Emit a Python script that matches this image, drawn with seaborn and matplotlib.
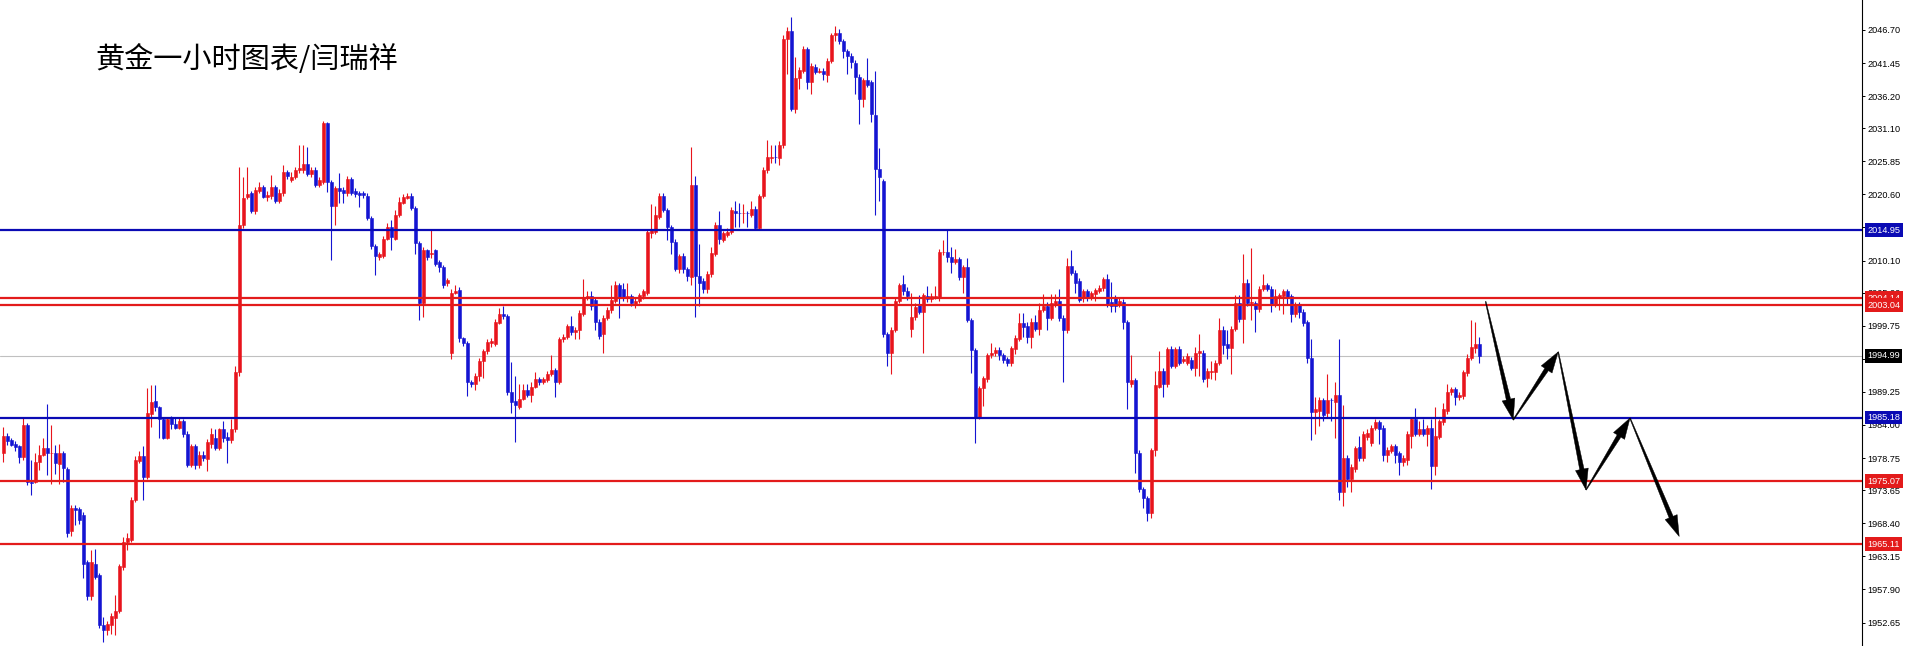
import numpy as np
import matplotlib
matplotlib.use("Agg")
import matplotlib.pyplot as plt
import matplotlib.transforms as mtransforms
from matplotlib.patches import Polygon
import seaborn as sns

# hourly gold candles (oldest first)
opens = [
    1979.5, 1982.3, 1981.6, 1981.0, 1980.7, 1978.9, 1984.0, 1975.0, 1975.0, 1978.2,
    1979.2, 1980.3, 1979.5, 1979.5, 1977.8, 1979.6, 1977.0, 1967.1, 1970.9, 1970.6,
    1969.7, 1962.3, 1956.8, 1962.0, 1960.2, 1952.2, 1951.5, 1952.3, 1953.3, 1954.4,
    1961.5, 1965.5, 1965.8, 1972.1, 1978.3, 1979.0, 1975.8, 1985.8, 1987.8, 1986.8,
    1984.9, 1982.0, 1985.1, 1984.2, 1983.6, 1984.7, 1982.6, 1977.7, 1980.6, 1977.7,
    1979.3, 1978.6, 1981.0, 1982.0, 1980.3, 1983.3, 1982.1, 1981.6, 1983.3, 1992.4,
    2015.7, 2020.2, 2020.8, 2017.9, 2021.2, 2021.8, 2020.2, 2020.3, 2021.8, 2019.5,
    2020.8, 2024.1, 2022.9, 2023.4, 2024.5, 2024.4, 2025.5, 2023.9, 2024.5, 2022.1,
    2022.6, 2031.9, 2022.5, 2018.7, 2021.6, 2021.3, 2020.8, 2023.0, 2021.2, 2020.9,
    2020.8, 2020.4, 2016.9, 2012.4, 2010.7, 2010.8, 2013.6, 2015.5, 2013.6, 2017.3,
    2019.3, 2020.1, 2020.3, 2018.5, 2012.9, 2003.3, 2011.7, 2011.2, 2011.7, 2009.9,
    2009.1, 2006.5, 1995.4, 2005.0, 2005.4, 1997.8, 1997.0, 1990.8, 1990.5, 1991.8,
    1994.1, 1995.7, 1997.0, 1996.9, 2000.2, 2001.6, 2001.3, 1989.2, 1987.8, 1986.9,
    1988.2, 1989.5, 1988.8, 1990.1, 1991.3, 1990.8, 1991.1, 1992.1, 1992.8, 1990.8,
    1997.6, 1998.0, 1999.7, 1998.7, 1999.0, 2001.6, 2004.2, 2004.4, 2003.9, 2000.3,
    1998.4, 2001.0, 2002.2, 2003.7, 2006.2, 2005.6, 2004.1, 2004.4, 2003.0, 2003.7,
    2004.4, 2005.0, 2014.4, 2014.7, 2017.0, 2020.3, 2018.1, 2015.4, 2013.1, 2008.8,
    2010.8, 2008.7, 2007.5, 2022.1, 2007.7, 2006.9, 2005.6, 2007.9, 2011.1, 2015.7,
    2013.4, 2014.2, 2014.7, 2018.0, 2017.7, 2017.6, 2017.7, 2017.4, 2018.3, 2015.3,
    2020.3, 2024.4, 2026.4, 2026.5, 2026.4, 2028.5, 2045.2, 2046.5, 2034.1, 2039.0,
    2040.2, 2043.7, 2038.4, 2040.8, 2040.1, 2040.2, 2039.5, 2041.8, 2045.9, 2046.2,
    2044.9, 2043.3, 2042.6, 2041.5, 2039.3, 2035.7, 2038.7, 2038.4, 2033.2, 2024.6,
    2022.7, 1998.4, 1995.4, 1999.1, 2003.7, 2006.4, 2005.3, 1999.3, 2001.1, 2003.0,
    2002.0, 2004.4, 2004.0, 2004.3, 2004.1, 2011.4, 2011.5, 2010.7, 2009.8, 2010.3,
    2007.5, 2009.0, 2000.7, 1995.9, 1985.3, 1989.8, 1991.3, 1995.1, 1995.5, 1995.9,
    1995.1, 1994.4, 1993.8, 1996.0, 1997.6, 2000.2, 1999.7, 1998.0, 2000.3, 1999.3,
    2002.3, 2002.9, 2001.0, 2003.2, 2003.7, 2001.0, 1999.0, 2009.2, 2008.2, 2006.9,
    2004.2, 2005.2, 2004.3, 2004.8, 2005.3, 2005.7, 2007.2, 2003.6, 2004.2, 2003.2,
    2003.6, 2000.3, 1990.5, 1991.1, 1979.6, 1973.8, 1972.4, 1970.1, 1980.0, 1990.1,
    1992.6, 1990.5, 1996.0, 1993.4, 1996.0, 1994.2, 1993.9, 1994.3, 1993.1, 1995.4,
    1995.4, 1991.5, 1992.4, 1992.4, 1993.9, 1999.0, 1996.9, 1996.2, 1999.3, 2003.3,
    2000.8, 2006.5, 2003.3, 2003.3, 2002.4, 2005.6, 2006.3, 2005.6, 2003.1, 2004.3,
    2004.4, 2005.2, 2004.4, 2001.6, 2003.1, 2002.0, 2000.3, 1994.7, 1986.0, 1986.2,
    1988.0, 1985.9, 1987.9, 1987.6, 1988.8, 1973.4, 1978.7, 1975.4, 1977.0, 1980.5,
    1978.7, 1982.1, 1981.2, 1983.6, 1984.4, 1983.6, 1979.2, 1979.9, 1980.6, 1979.5,
    1978.1, 1978.5, 1982.3, 1984.9, 1982.6, 1983.3, 1982.6, 1983.6, 1977.5, 1982.1,
    1984.4, 1986.2, 1989.2, 1989.7, 1988.4, 1988.6, 1992.3, 1994.7, 1996.3, 1996.9,
]
highs = [
    1983.7, 1982.7, 1981.9, 1981.4, 1980.9, 1985.1, 1984.3, 1978.5, 1979.5, 1980.8,
    1981.9, 1987.4, 1984.0, 1980.8, 1981.0, 1979.9, 1977.3, 1971.3, 1971.3, 1971.0,
    1970.2, 1962.6, 1964.2, 1964.3, 1960.5, 1953.6, 1952.9, 1954.2, 1957.0, 1962.0,
    1966.3, 1966.8, 1972.6, 1979.0, 1979.8, 1980.6, 1989.8, 1990.3, 1990.3, 1987.0,
    1985.2, 1985.3, 1985.5, 1985.2, 1985.1, 1985.0, 1983.0, 1981.0, 1981.0, 1979.8,
    1979.8, 1981.8, 1983.6, 1983.3, 1983.6, 1984.6, 1982.9, 1984.9, 1993.3, 2025.0,
    2023.3, 2025.0, 2021.2, 2021.8, 2022.5, 2022.1, 2021.2, 2023.7, 2022.1, 2021.5,
    2025.3, 2024.4, 2024.2, 2025.0, 2028.5, 2028.5, 2028.2, 2025.0, 2024.9, 2023.3,
    2032.3, 2032.1, 2022.9, 2022.0, 2024.0, 2021.8, 2023.6, 2023.4, 2021.6, 2021.2,
    2021.1, 2020.8, 2017.2, 2012.8, 2011.5, 2014.0, 2016.0, 2016.5, 2018.1, 2020.2,
    2020.7, 2020.8, 2020.8, 2018.8, 2013.2, 2012.2, 2012.0, 2015.0, 2012.0, 2010.2,
    2009.4, 2007.3, 2005.6, 2006.2, 2005.9, 1998.0, 1997.3, 1991.2, 1992.3, 1994.6,
    1996.1, 1997.6, 1997.8, 2000.8, 2002.5, 2002.9, 2001.6, 1994.0, 1991.8, 1990.5,
    1990.5, 1990.5, 1990.8, 1992.4, 1991.6, 1991.6, 1992.5, 1995.1, 1993.1, 1998.0,
    1998.5, 2000.0, 2001.3, 1999.5, 2002.3, 2007.2, 2005.2, 2005.2, 2004.3, 2000.8,
    2001.5, 2002.8, 2006.2, 2006.8, 2006.6, 2006.6, 2006.6, 2004.8, 2004.2, 2005.0,
    2005.6, 2015.1, 2019.0, 2018.7, 2020.9, 2020.8, 2018.4, 2015.8, 2013.5, 2011.2,
    2011.3, 2009.0, 2028.2, 2023.6, 2012.8, 2007.3, 2008.4, 2012.2, 2016.2, 2018.0,
    2014.8, 2015.2, 2018.6, 2019.6, 2019.3, 2019.0, 2018.0, 2019.5, 2018.7, 2020.7,
    2024.9, 2029.2, 2028.5, 2028.4, 2029.0, 2045.9, 2047.2, 2048.7, 2042.4, 2040.8,
    2044.2, 2044.0, 2041.5, 2041.3, 2040.6, 2040.6, 2042.3, 2046.3, 2047.4, 2046.9,
    2045.3, 2043.7, 2043.0, 2041.9, 2039.7, 2039.0, 2042.2, 2038.7, 2040.2, 2028.0,
    2023.0, 1998.8, 1999.6, 2004.1, 2006.6, 2007.8, 2005.9, 2004.9, 2003.3, 2004.6,
    2004.9, 2006.0, 2005.0, 2006.0, 2011.9, 2013.4, 2014.9, 2012.3, 2012.0, 2010.7,
    2009.4, 2010.5, 2001.0, 1996.3, 1990.2, 1991.7, 1995.4, 1997.0, 1996.4, 1996.4,
    1995.5, 1994.8, 1996.6, 1998.3, 2001.7, 2001.7, 2000.4, 2001.0, 2001.5, 2003.3,
    2004.8, 2003.6, 2004.8, 2004.8, 2005.6, 2001.4, 2010.5, 2011.8, 2008.6, 2007.3,
    2005.6, 2005.6, 2005.3, 2005.8, 2006.2, 2007.5, 2008.0, 2006.7, 2004.6, 2004.2,
    2004.0, 2000.7, 1995.1, 1991.5, 1980.0, 1974.2, 1972.8, 1980.4, 1992.5, 1995.7,
    1993.0, 1996.4, 1996.5, 1996.4, 1996.5, 1995.0, 1995.5, 1994.8, 1996.4, 1998.5,
    1995.9, 1993.0, 1994.1, 1994.3, 2001.0, 1999.7, 1999.0, 1999.7, 2004.6, 2004.6,
    2011.1, 2007.2, 2012.1, 2003.7, 2006.0, 2008.0, 2006.6, 2006.0, 2005.6, 2005.0,
    2005.6, 2005.6, 2004.8, 2003.6, 2003.5, 2002.4, 2000.7, 1997.7, 1988.5, 1988.5,
    1988.3, 1992.1, 1988.3, 1990.8, 1997.7, 1987.2, 1979.3, 1977.8, 1980.7, 1982.3,
    1983.0, 1983.3, 1984.0, 1984.9, 1984.8, 1984.0, 1980.5, 1981.0, 1981.0, 1979.9,
    1979.2, 1983.0, 1985.3, 1986.7, 1984.6, 1984.9, 1984.0, 1984.9, 1986.9, 1985.0,
    1987.5, 1990.5, 1990.1, 1990.1, 1989.2, 1992.8, 1995.2, 2000.6, 2000.3, 1998.0,
]
lows = [
    1978.2, 1980.8, 1980.6, 1979.9, 1977.9, 1978.5, 1974.5, 1972.9, 1974.8, 1976.9,
    1979.0, 1976.1, 1974.7, 1976.3, 1974.7, 1975.0, 1966.3, 1966.4, 1968.1, 1968.3,
    1959.7, 1956.3, 1956.3, 1959.5, 1951.8, 1949.6, 1950.7, 1950.9, 1950.7, 1954.1,
    1961.0, 1964.2, 1965.5, 1971.8, 1977.9, 1972.1, 1975.5, 1983.7, 1986.3, 1981.9,
    1981.7, 1981.7, 1983.3, 1983.3, 1983.3, 1982.1, 1977.3, 1977.3, 1977.0, 1977.2,
    1978.3, 1976.7, 1980.4, 1980.0, 1980.0, 1981.3, 1978.0, 1981.2, 1982.9, 1991.8,
    2015.2, 2019.8, 2017.6, 2017.5, 2020.8, 2020.0, 2019.5, 2019.8, 2019.2, 2019.2,
    2020.4, 2023.0, 2022.6, 2023.0, 2024.0, 2024.0, 2023.5, 2023.3, 2021.8, 2021.8,
    2022.3, 2021.0, 2010.2, 2015.8, 2019.2, 2019.2, 2020.4, 2020.5, 2020.2, 2018.6,
    2020.1, 2016.5, 2012.0, 2007.8, 2010.2, 2010.5, 2013.3, 2011.8, 2013.3, 2017.0,
    2019.0, 2019.8, 2018.2, 2011.2, 2000.7, 2001.2, 2010.2, 2010.5, 2009.2, 2008.3,
    2005.8, 2006.0, 1994.5, 2004.8, 1997.2, 1996.5, 1988.6, 1990.0, 1989.5, 1991.0,
    1991.5, 1995.3, 1996.4, 1996.6, 2000.0, 2000.8, 1988.8, 1985.9, 1981.3, 1986.6,
    1987.9, 1988.4, 1987.6, 1989.8, 1990.3, 1990.5, 1990.8, 1991.8, 1988.4, 1990.5,
    1997.2, 1997.6, 1998.3, 1997.6, 1997.7, 2001.3, 2003.8, 2002.3, 1999.0, 1997.7,
    1995.4, 2000.6, 2001.8, 2003.3, 2001.0, 2003.7, 2003.5, 2002.9, 2002.6, 2003.3,
    2004.0, 2004.6, 2013.7, 2014.3, 2016.7, 2017.8, 2013.4, 2011.1, 2008.4, 2008.2,
    2008.2, 2006.9, 2006.2, 2001.1, 2002.9, 2004.9, 2004.9, 2007.5, 2010.8, 2012.8,
    2013.0, 2013.8, 2014.3, 2015.5, 2015.5, 2016.0, 2015.5, 2017.0, 2015.0, 2014.9,
    2020.0, 2024.0, 2025.6, 2025.6, 2025.2, 2028.0, 2039.7, 2033.8, 2033.6, 2037.4,
    2039.8, 2037.4, 2036.5, 2039.7, 2039.8, 2038.7, 2038.5, 2041.4, 2044.9, 2044.5,
    2042.3, 2039.7, 2040.6, 2036.5, 2031.8, 2034.4, 2037.6, 2032.1, 2017.4, 2019.6,
    1998.0, 1993.4, 1992.1, 1998.8, 2003.3, 2004.6, 2003.8, 1998.0, 2000.6, 2001.6,
    1995.4, 2003.6, 2003.6, 2004.0, 2003.7, 2011.0, 2009.9, 2008.2, 2009.5, 2007.0,
    2004.9, 2000.4, 1992.2, 1981.1, 1984.9, 1987.0, 1990.9, 1994.7, 1995.0, 1994.3,
    1993.9, 1993.3, 1993.3, 1995.2, 1997.3, 1998.0, 1997.0, 1996.2, 1998.9, 1998.3,
    2001.9, 1999.0, 2000.6, 2002.7, 2000.5, 1990.8, 1998.6, 2007.8, 2004.9, 2003.5,
    2003.6, 2003.7, 2003.9, 2003.7, 2004.9, 2005.3, 2002.7, 2002.0, 2002.0, 2002.8,
    1999.3, 1986.5, 1990.0, 1976.4, 1973.3, 1970.8, 1968.8, 1969.2, 1979.0, 1989.8,
    1988.5, 1990.1, 1993.0, 1993.0, 1993.5, 1993.8, 1993.5, 1992.7, 1991.8, 1991.7,
    1990.9, 1990.1, 1991.3, 1991.1, 1993.5, 1995.2, 1994.4, 1992.1, 1998.9, 2000.4,
    1997.0, 2002.9, 2000.6, 1998.7, 2002.0, 2005.2, 2005.2, 2002.0, 2002.7, 2002.3,
    2001.6, 2003.1, 2000.3, 2001.1, 2001.0, 1999.7, 1993.8, 1981.6, 1982.6, 1983.9,
    1984.6, 1985.2, 1984.6, 1982.0, 1972.1, 1971.1, 1974.1, 1973.4, 1976.6, 1978.3,
    1978.3, 1981.6, 1980.6, 1983.2, 1981.0, 1978.3, 1978.1, 1979.5, 1978.0, 1976.1,
    1977.5, 1977.7, 1980.3, 1982.2, 1982.2, 1982.2, 1980.6, 1973.8, 1976.1, 1981.7,
    1984.0, 1985.8, 1988.8, 1987.2, 1988.0, 1988.2, 1991.7, 1994.3, 1995.5, 1993.8,
]
closes = [
    1982.2, 1981.5, 1980.8, 1980.5, 1978.9, 1984.0, 1975.0, 1974.8, 1978.2, 1979.2,
    1980.3, 1979.5, 1979.6, 1977.9, 1979.6, 1977.1, 1966.8, 1970.9, 1970.5, 1968.9,
    1962.0, 1956.8, 1962.3, 1959.9, 1952.2, 1951.5, 1952.4, 1953.7, 1954.4, 1961.6,
    1965.5, 1966.0, 1972.1, 1978.5, 1979.0, 1975.8, 1985.9, 1987.7, 1986.8, 1984.9,
    1982.0, 1984.9, 1984.1, 1983.6, 1984.7, 1982.6, 1977.7, 1980.6, 1977.7, 1979.3,
    1978.7, 1981.3, 1982.6, 1980.3, 1983.3, 1982.0, 1981.6, 1983.3, 1992.4, 2015.7,
    2020.1, 2020.7, 2017.9, 2021.3, 2021.8, 2020.2, 2020.5, 2021.8, 2019.5, 2020.8,
    2024.1, 2023.5, 2023.4, 2024.5, 2024.8, 2025.5, 2023.9, 2024.5, 2022.1, 2022.9,
    2031.9, 2022.5, 2018.7, 2021.6, 2021.2, 2020.8, 2023.0, 2020.8, 2020.7, 2020.5,
    2020.5, 2016.8, 2012.4, 2010.8, 2011.1, 2013.6, 2015.5, 2013.8, 2017.3, 2019.4,
    2020.2, 2020.3, 2018.5, 2012.9, 2003.3, 2011.8, 2010.7, 2011.3, 2009.6, 2009.1,
    2006.2, 2007.0, 2005.0, 2005.3, 1997.8, 1997.0, 1990.8, 1990.5, 1991.8, 1994.1,
    1995.7, 1997.2, 1997.3, 2000.3, 2001.6, 2001.3, 1989.2, 1987.7, 1987.2, 1988.2,
    1989.5, 1988.8, 1990.1, 1991.3, 1990.8, 1991.3, 1992.1, 1992.8, 1990.8, 1997.6,
    1998.0, 1999.7, 1998.7, 1999.0, 2001.8, 2004.2, 2004.4, 2002.9, 2000.3, 1998.2,
    2001.0, 2002.3, 2003.9, 2006.2, 2004.2, 2004.1, 2004.4, 2003.3, 2003.7, 2004.6,
    2005.2, 2014.7, 2015.0, 2017.4, 2020.3, 2018.1, 2015.4, 2013.1, 2008.8, 2010.8,
    2008.7, 2007.7, 2022.1, 2007.7, 2006.5, 2005.6, 2007.9, 2011.3, 2015.7, 2013.6,
    2014.4, 2014.7, 2018.1, 2017.7, 2017.6, 2017.7, 2017.6, 2018.3, 2015.3, 2020.3,
    2024.4, 2026.5, 2026.5, 2026.5, 2028.5, 2045.2, 2046.5, 2034.1, 2039.0, 2040.3,
    2043.7, 2038.4, 2041.0, 2040.0, 2040.2, 2039.7, 2041.8, 2045.9, 2046.2, 2044.9,
    2043.3, 2042.6, 2041.6, 2039.3, 2035.7, 2038.7, 2038.0, 2033.4, 2024.6, 2023.4,
    1998.4, 1995.4, 1999.1, 2003.7, 2006.2, 2005.2, 2004.4, 2001.2, 2002.8, 2002.0,
    2004.6, 2004.0, 2004.5, 2004.5, 2011.5, 2011.5, 2010.7, 2009.9, 2010.3, 2007.5,
    2009.0, 2000.7, 1995.9, 1985.3, 1989.8, 1991.4, 1995.1, 1995.5, 1995.9, 1995.1,
    1994.3, 1993.8, 1996.2, 1997.8, 2000.2, 1999.5, 1998.0, 2000.3, 1999.3, 2002.3,
    2002.9, 2001.0, 2003.3, 2003.7, 2001.0, 1999.0, 2009.2, 2008.2, 2006.5, 2003.9,
    2005.2, 2004.1, 2004.9, 2005.4, 2005.7, 2007.2, 2003.1, 2002.9, 2002.9, 2003.7,
    2000.3, 1990.8, 1991.1, 1979.6, 1973.8, 1972.4, 1970.1, 1980.0, 1990.3, 1992.6,
    1990.5, 1996.0, 1993.4, 1996.0, 1993.9, 1994.4, 1994.9, 1993.1, 1995.4, 1995.7,
    1991.3, 1992.6, 1992.6, 1993.9, 1999.0, 1996.7, 1996.2, 1999.3, 2003.3, 2000.8,
    2006.5, 2003.3, 2003.5, 2002.4, 2005.6, 2006.3, 2005.6, 2003.1, 2004.4, 2004.6,
    2005.2, 2004.2, 2001.6, 2003.1, 2002.0, 2000.2, 1994.7, 1986.0, 1986.5, 1988.0,
    1985.6, 1987.9, 1987.9, 1988.8, 1973.4, 1978.7, 1975.4, 1977.4, 1980.3, 1978.7,
    1982.5, 1982.7, 1983.6, 1984.4, 1983.3, 1979.2, 1980.1, 1980.6, 1979.2, 1978.1,
    1978.8, 1982.6, 1984.9, 1982.6, 1983.3, 1982.6, 1983.6, 1977.5, 1982.3, 1984.6,
    1986.5, 1989.2, 1989.7, 1988.4, 1988.8, 1992.4, 1994.7, 1996.4, 1996.9, 1994.99,
]

blue_levels = [2014.95, 1985.18]
red_levels = [2004.14, 2003.04, 1975.07, 1965.11]
bid_price = 1994.99
price_ticks = [2046.70, 2041.45, 2036.20, 2031.10, 2025.85, 2020.60, 2015.35,
               2010.10, 2005.00, 1999.75, 1994.50, 1989.25, 1984.00, 1978.75,
               1973.65, 1968.40, 1963.15, 1957.90, 1952.65]
title = "黄金一小时图表/闫瑞祥"

# hand-drawn forecast zigzag: bar position and price of each turning point
path_bars = [370.6, 377.5, 388.75, 395.7, 406.7, 419.0]
path_prices = [2003.6, 1984.8, 1995.6, 1973.7, 1985.1, 1966.3]

RED = "#e8141c"
BLUE = "#1414d2"
LINE_RED = "#e31b1b"
LINE_BLUE = "#0a0ab4"


def draw_candles(ax):
    """Wicks as vlines, bodies as floating bars."""
    o = np.array(opens)
    c = np.array(closes)
    x = np.arange(len(o))
    colors = np.where(c > o, RED, BLUE)
    ax.vlines(x, lows, highs, colors=colors, lw=0.8, zorder=3)
    ax.bar(x, c - o, bottom=o, width=0.72, color=colors,
           edgecolor=colors, linewidth=0.4, zorder=3)


def draw_arrow(ax, start, end, head_len=21, head_half=6.5, shaft_half=2.2, tail_half=0.4):
    """Tapered MT4-style arrow, shaped in pixel space."""
    p0 = ax.transData.transform(start)
    p1 = ax.transData.transform(end)
    d = (p1 - p0) / np.hypot(*(p1 - p0))
    n = np.array([-d[1], d[0]])
    base = p1 - d * head_len
    pts = np.array([p0 + n * tail_half, base + n * shaft_half, base + n * head_half, p1,
                    base - n * head_half, base - n * shaft_half, p0 - n * tail_half])
    verts = ax.transData.inverted().transform(pts)
    ax.add_patch(Polygon(verts, closed=True, fc="black", ec="black", lw=0.3, zorder=6))


def price_tag(ax, value, bg):
    trans = mtransforms.blended_transform_factory(ax.transAxes, ax.transData)
    ax.text(1.0028, value, f"{value:.2f}", transform=trans, ha="left", va="center",
            fontsize=6.6, color="white", clip_on=False, zorder=7,
            bbox=dict(boxstyle="square,pad=0.25", fc=bg, ec="none"))


def main():
    sns.set_style("white")
    plt.rcParams["font.family"] = ["Liberation Sans", "DejaVu Sans"]

    fig = plt.figure(figsize=(19.08, 6.46), dpi=100)
    ax = fig.add_axes([0, 0, 1862 / 1908, 1])
    ax.set_xlim(-0.825, 464.7)
    ax.set_ylim(1948.92, 2051.46)

    draw_candles(ax)

    for lv in blue_levels:
        ax.axhline(lv, color=LINE_BLUE, lw=1.6, zorder=4)
    for lv in red_levels:
        ax.axhline(lv, color=LINE_RED, lw=1.6, zorder=4)
    ax.axhline(bid_price, color="#c0c0c0", lw=0.8, zorder=2)

    for i in range(len(path_bars) - 1):
        draw_arrow(ax, (path_bars[i], path_prices[i]), (path_bars[i + 1], path_prices[i + 1]))

    # right price scale
    sns.despine(ax=ax, left=True, bottom=True, top=True, right=False)
    ax.spines["right"].set_color("black")
    ax.spines["right"].set_linewidth(0.8)
    ax.yaxis.tick_right()
    ax.set_yticks(price_ticks)
    ax.set_yticklabels([f"{t:.2f}" for t in price_ticks])
    ax.tick_params(axis="y", direction="out", length=2.2, width=0.7, pad=1.8,
                   labelsize=6.6, colors="black")
    ax.set_xticks([])

    price_tag(ax, 2014.95, LINE_BLUE)
    price_tag(ax, 2004.14, LINE_RED)
    price_tag(ax, 2003.04, LINE_RED)
    price_tag(ax, bid_price, "black")
    price_tag(ax, 1985.18, LINE_BLUE)
    price_tag(ax, 1975.07, LINE_RED)
    price_tag(ax, 1965.11, LINE_RED)

    ax.text(95 / 1862, 1 - 60 / 646, title, transform=ax.transAxes, ha="left",
            va="center", fontsize=21, color="black",
            family=["Noto Sans CJK SC", "DejaVu Sans"])

    fig.savefig("out.png", dpi=100, facecolor="white")
    plt.close(fig)


if __name__ == "__main__":
    main()
